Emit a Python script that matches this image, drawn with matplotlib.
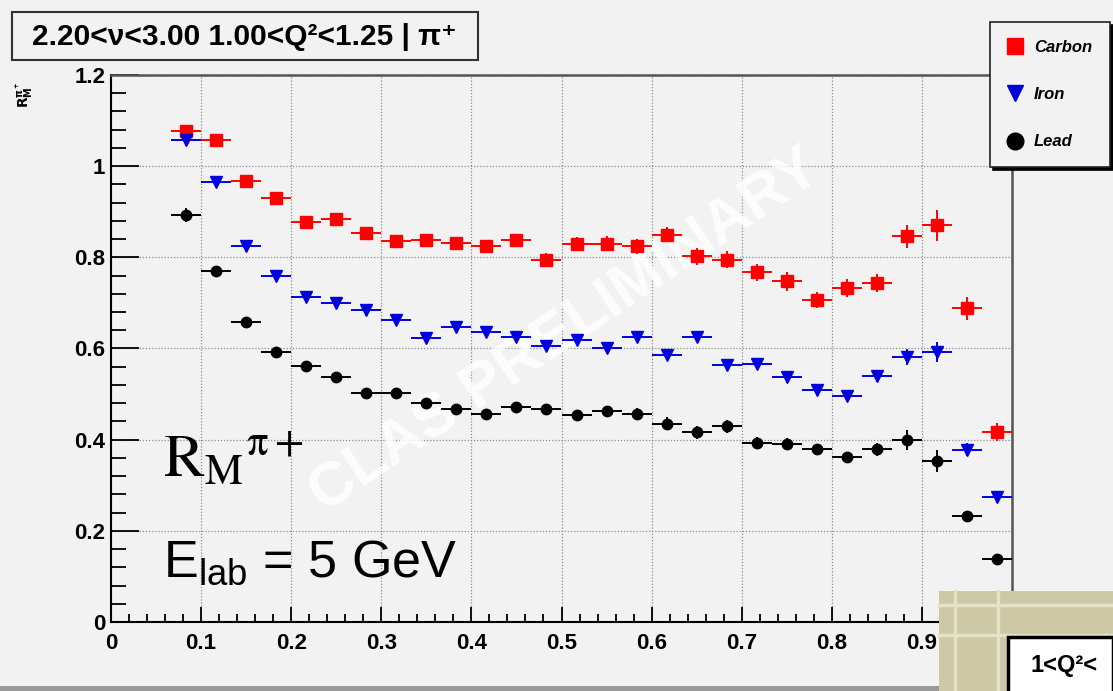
import numpy as np
import matplotlib
matplotlib.use("Agg")
from matplotlib import pyplot as plt
from matplotlib.lines import Line2D
from matplotlib.patches import Rectangle
from matplotlib.ticker import MultipleLocator, FuncFormatter

# bin centres in x (bins of width 1/30)
z_bins = [0.0833, 0.1167, 0.1500, 0.1833, 0.2167, 0.2500, 0.2833, 0.3167,
          0.3500, 0.3833, 0.4167, 0.4500, 0.4833, 0.5167, 0.5500, 0.5833,
          0.6167, 0.6500, 0.6833, 0.7167, 0.7500, 0.7833, 0.8167, 0.8500,
          0.8833, 0.9167, 0.9500, 0.9833]
z_half = 1 / 60

carbon = [1.078, 1.058, 0.968, 0.931, 0.878, 0.883, 0.854, 0.835, 0.837, 0.832,
          0.824, 0.837, 0.795, 0.830, 0.830, 0.824, 0.850, 0.802, 0.795, 0.767,
          0.747, 0.706, 0.732, 0.743, 0.846, 0.870, 0.688, 0.416]
carbon_err = [0.012, 0.008, 0.008, 0.010, 0.010, 0.010, 0.010, 0.010, 0.010, 0.010,
              0.012, 0.012, 0.014, 0.015, 0.016, 0.016, 0.016, 0.018, 0.018, 0.018,
              0.020, 0.018, 0.020, 0.020, 0.025, 0.034, 0.026, 0.020]

iron = [1.057, 0.966, 0.824, 0.758, 0.714, 0.700, 0.685, 0.662, 0.623, 0.648,
        0.637, 0.625, 0.605, 0.618, 0.602, 0.625, 0.585, 0.625, 0.563, 0.567,
        0.537, 0.510, 0.496, 0.539, 0.581, 0.592, 0.378, 0.274]
iron_err = [0.012, 0.006, 0.006, 0.006, 0.006, 0.006, 0.006, 0.006, 0.008, 0.008,
            0.008, 0.008, 0.008, 0.010, 0.010, 0.010, 0.010, 0.010, 0.012, 0.012,
            0.012, 0.012, 0.012, 0.012, 0.018, 0.022, 0.014, 0.014]

lead = [0.893, 0.771, 0.659, 0.592, 0.561, 0.537, 0.503, 0.502, 0.481, 0.467,
        0.457, 0.472, 0.467, 0.455, 0.462, 0.457, 0.435, 0.416, 0.429, 0.393,
        0.391, 0.379, 0.361, 0.379, 0.399, 0.353, 0.232, 0.138]
lead_err = [0.016, 0.006, 0.006, 0.006, 0.006, 0.006, 0.006, 0.006, 0.008, 0.008,
            0.008, 0.008, 0.008, 0.010, 0.010, 0.012, 0.014, 0.014, 0.014, 0.012,
            0.012, 0.012, 0.012, 0.014, 0.022, 0.024, 0.012, 0.010]

W, H = 1113, 691
BG = "#f2f2f2"
SANS = ["Liberation Sans", "DejaVu Sans"]
plt.rcParams["mathtext.rm"] = "Liberation Sans"


def fx(px):
    return px / W


def fy(py):
    return 1 - py / H


fig = plt.figure(figsize=(W / 100, H / 100), dpi=100, facecolor=BG)
ax = fig.add_axes([fx(111), fy(622), fx(1012) - fx(111), fy(75) - fy(622)])
ax.set_facecolor(BG)

series = [
    ("Carbon", carbon, carbon_err, "red", "s", 8.5),
    ("Iron", iron, iron_err, "#0000dd", "v", 8.5),
    ("Lead", lead, lead_err, "black", "o", 7.5),
]
for name, vals, errs, col, mk, ms in series:
    ax.errorbar(z_bins, vals, yerr=errs, xerr=z_half, fmt=mk, color=col,
                ms=ms, mec=col, elinewidth=1.4, capsize=0, zorder=4)

ax.set_xlim(0, 1.0)
ax.set_ylim(0, 1.2)
ax.xaxis.set_major_locator(MultipleLocator(0.1))
ax.xaxis.set_minor_locator(MultipleLocator(0.02))
ax.yaxis.set_major_locator(MultipleLocator(0.2))
ax.yaxis.set_minor_locator(MultipleLocator(0.04))


def root_fmt(v, pos):
    s = f"{v:.1f}"
    return s[:-2] if s.endswith(".0") else s


ax.xaxis.set_major_formatter(FuncFormatter(root_fmt))
ax.yaxis.set_major_formatter(FuncFormatter(root_fmt))
ax.tick_params(which="both", direction="in", top=False, right=False,
               color="black", width=1.3)
ax.tick_params(axis="y", which="major", length=20, pad=4)
ax.tick_params(axis="y", which="minor", length=11)
ax.tick_params(axis="x", which="major", length=11, pad=8)
ax.tick_params(axis="x", which="minor", length=6)
for lab in ax.get_xticklabels() + ax.get_yticklabels():
    lab.set_fontfamily(SANS)
    lab.set_fontweight("bold")
    lab.set_fontsize(16)

ax.grid(True, which="major", color="#8c8c8c", linestyle=(0, (1, 1.5)),
        linewidth=0.9, zorder=1)
ax.set_axisbelow(True)
for side in ("left", "bottom"):
    ax.spines[side].set_linewidth(1.5)
    ax.spines[side].set_color("black")
for side in ("top", "right"):
    ax.spines[side].set_linewidth(1.8)
    ax.spines[side].set_color("#555555")

# watermark
ax.text(0.505, 0.530, "CLAS PRELIMINARY", transform=ax.transAxes,
        rotation=34, ha="center", va="center", fontsize=44,
        fontweight="bold", family=SANS, color="white", alpha=0.85, zorder=3)

# annotations inside the frame
fig.text(fx(163), fy(477), r"$\mathrm{R_M}^{\mathrm{π}+}$", fontsize=44,
         math_fontfamily="stix", va="baseline", ha="left", zorder=5)
fig.text(fx(163), fy(577), r"E$_{\mathrm{lab}}$ = 5 GeV", fontsize=37.5,
         family=SANS, math_fontfamily="custom", va="baseline", ha="left",
         zorder=5)

# y-axis title, small and rotated
fig.text(fx(24), fy(95), r"$\mathbf{R_M^{\pi^+}}$", rotation=90, fontsize=10,
         ha="center", va="center")

# title box
fig.patches.append(Rectangle((fx(12), fy(60)), fx(478) - fx(12), fy(12) - fy(60),
                             transform=fig.transFigure, fc=BG, ec="#333333",
                             lw=1.5))
fig.text(fx(32), fy(37), "2.20<ν<3.00 1.00<Q²<1.25 | π⁺", fontsize=21.5,
         fontweight="bold", family=SANS, va="center", ha="left")

# legend with a solid shadow
handles = [Line2D([], [], ls="none", marker=mk, color=col, ms=12)
           for _, _, _, col, mk, _ in series]
leg = fig.legend(handles, [s[0] for s in series], loc="upper left",
                 bbox_to_anchor=(fx(990), fy(22)), frameon=True, fancybox=False,
                 prop={"family": SANS, "weight": "bold", "style": "italic",
                       "size": 12},
                 labelspacing=1.95, handlelength=0.9, handletextpad=0.7,
                 borderpad=1.05, borderaxespad=0,
                 shadow={"color": "black", "alpha": 1})
leg.get_frame().set_facecolor(BG)
leg.get_frame().set_edgecolor("#222222")
leg.get_frame().set_linewidth(1.2)

# piece of the next panel overlapping the corner
tan = "#cdc9a6"
fig.patches.append(Rectangle((fx(939), 0), 1 - fx(939), fy(591),
                             transform=fig.transFigure, fc=tan, ec="none",
                             zorder=10))
for px in (955, 998):
    fig.add_artist(Line2D([fx(px), fx(px)], [0, fy(591)], color="#e6e2c8",
                          lw=2.5, zorder=11))
for py in (605, 635):
    fig.add_artist(Line2D([fx(939), 1], [fy(py), fy(py)], color="#e6e2c8",
                          lw=2.5, zorder=11))
fig.patches.append(Rectangle((fx(1008), fy(700)), 1 - fx(1008), fy(637) - fy(700),
                             transform=fig.transFigure, fc="white", ec="black",
                             lw=2.5, zorder=12))
fig.text(fx(1030), fy(672), "1<Q²<", fontsize=17, fontweight="bold",
         family=SANS, zorder=13, va="baseline")

# bottom edge of the page
fig.patches.append(Rectangle((0, 0), fx(939), fy(686),
                             transform=fig.transFigure, fc="#9a9a9a",
                             ec="none", zorder=9))

fig.savefig("out.png", dpi=100, facecolor=BG)
